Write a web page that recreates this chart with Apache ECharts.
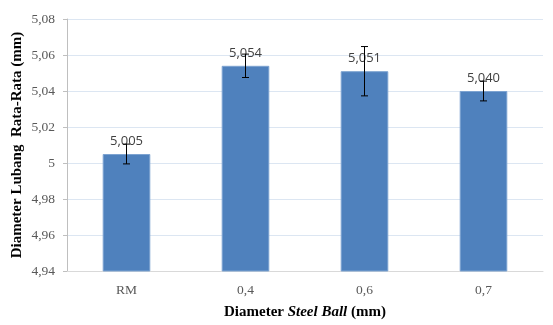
<!DOCTYPE html>
<html><head><meta charset="utf-8">
<script src="https://cdn.jsdelivr.net/npm/echarts@6/dist/echarts.min.js"></script>
<style>html,body{margin:0;padding:0;background:#fff}#c{width:553px;height:325px}</style>
</head><body><div id="c"></div>
<script>
const categories = ['RM', '0,4', '0,6', '0,7'];
const values = [5.005, 5.054, 5.051, 5.040];
const errMinus = [0.0055, 0.0065, 0.0137, 0.0055];
const errPlus = [0.0055, 0.0065, 0.0137, 0.0055];
const yMin = 4.94, yMax = 5.08, yStep = 0.02;

const chart = echarts.init(document.getElementById('c'));
chart.setOption({
  animation: false,
  grid: {left: 67, right: 10, top: 19, bottom: 54, outerBoundsMode: 'none', containLabel: false},
  xAxis: {
    type: 'category', data: categories,
    axisLine: {show: true, lineStyle: {color: '#d9d9d9'}},
    axisTick: {show: false},
    axisLabel: {color: '#595959', fontFamily: 'Liberation Serif', fontSize: 13.5, margin: 12},
    name: '{b|Diameter }{bi|Steel Ball}{b| (mm)}',
    nameLocation: 'middle', nameGap: 34, nameMoveOverlap: false,
    nameTextStyle: {rich: {
      b: {fontFamily: 'Liberation Serif', fontWeight: 'bold', fontSize: 15, color: '#000'},
      bi: {fontFamily: 'Liberation Serif', fontWeight: 'bold', fontStyle: 'italic', fontSize: 15, color: '#000'}
    }}
  },
  yAxis: {
    type: 'value', min: yMin, max: yMax, interval: yStep,
    axisLine: {show: true, lineStyle: {color: '#bfbfbf'}},
    axisTick: {show: true, length: 4, lineStyle: {color: '#bfbfbf'}},
    splitLine: {lineStyle: {color: '#dce6f2'}},
    axisLabel: {color: '#595959', fontFamily: 'Liberation Serif', fontSize: 13.5, margin: 12,
      formatter: v => String(Math.round(v * 100) / 100).replace('.', ',')},
    name: 'Diameter Lubang  Rata-Rata (mm)',
    nameLocation: 'middle', nameGap: 42, nameMoveOverlap: false,
    nameTextStyle: {fontFamily: 'Liberation Serif', fontWeight: 'bold', fontSize: 15, color: '#000'}
  },
  series: [{
    type: 'bar', data: values, barWidth: '40%',
    itemStyle: {color: '#4f81bd', borderColor: '#7da3d1', borderWidth: 1},
    label: {show: true, position: 'top', distance: 6, color: '#404040',
      fontFamily: 'Open Sans', fontSize: 13,
      formatter: p => p.value.toFixed(3).replace('.', ',')},
    z: 2
  }, {
    type: 'custom',
    data: values.map((v, i) => [i, v - errMinus[i], v + errPlus[i]]),
    renderItem: (params, api) => {
      const lo = api.coord([api.value(0), api.value(1)]);
      const hi = api.coord([api.value(0), api.value(2)]);
      const w = 3.5;
      const st = {stroke: '#000', lineWidth: 1};
      return {type: 'group', children: [
        {type: 'line', shape: {x1: lo[0], y1: lo[1], x2: hi[0], y2: hi[1]}, style: st},
        {type: 'line', shape: {x1: lo[0] - w, y1: lo[1], x2: lo[0] + w, y2: lo[1]}, style: st},
        {type: 'line', shape: {x1: hi[0] - w, y1: hi[1], x2: hi[0] + w, y2: hi[1]}, style: st}
      ]};
    },
    z: 3
  }]
});
</script></body></html>
